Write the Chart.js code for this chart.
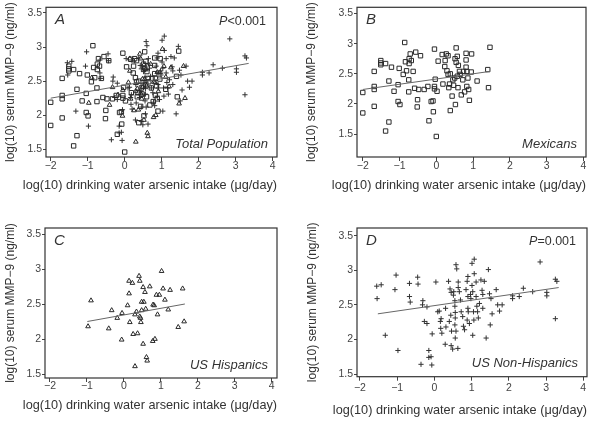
<!DOCTYPE html>
<html><head><meta charset="utf-8">
<script src="https://cdn.jsdelivr.net/npm/chart.js@4.4.1/dist/chart.umd.min.js"></script>
<style>
html,body{margin:0;padding:0;background:#fff;}
#wrap{position:relative;width:600px;height:427px;overflow:hidden;}
canvas{position:absolute;}
</style></head><body>
<div id="wrap">
<canvas id="cA" width="300" height="210" style="left:0;top:0"></canvas>
<canvas id="cB" width="300" height="210" style="left:300px;top:0"></canvas>
<canvas id="cC" width="300" height="217" style="left:0;top:210px"></canvas>
<canvas id="cD" width="300" height="217" style="left:300px;top:210px"></canvas>
</div>
<script>
// ---------- data ----------
const xTickValues = [-2, -1, 0, 1, 2, 3, 4];
const yTickValues = [1.5, 2, 2.5, 3, 3.5];
const xTitle = 'log(10) drinking water arsenic intake (\u03bcg/day)';
const yTitle = 'log(10) serum MMP\u22129 (ng/ml)';

// Mexicans (squares)
const mexX = [-2.00,-2.00,-1.69,-1.69,-1.69,-1.69,-1.51,-1.51,-1.51,-1.38,-1.38,-1.29,-1.22,-1.29,-1.15,-1.04,-1.04,-0.99,-1.01,-0.90,-0.86,-0.84,-0.81,-0.74,-0.71,-0.74,-0.68,-0.75,-0.75,-0.63,-0.56,-0.59,-0.51,-0.52,-0.43,-0.48,-0.33,-0.23,-0.20,-0.14,-0.09,-0.08,-0.05,-0.05,-0.03,-0.05,0.00,0.02,0.05,0.16,0.18,0.23,0.24,0.27,0.32,0.29,0.32,0.34,0.36,0.38,0.38,0.43,0.45,0.47,0.50,0.51,0.54,0.52,0.54,0.57,0.57,0.60,0.59,0.63,0.65,0.68,0.72,0.74,0.77,0.81,0.81,0.81,0.83,0.83,0.86,0.88,0.90,0.95,0.96,1.11,1.40,1.42,1.46];
const mexY = [2.19,1.85,2.54,2.29,2.24,1.96,2.72,2.68,2.65,2.67,1.55,1.70,2.61,2.38,2.21,2.32,2.04,1.99,2.59,2.49,3.02,2.70,2.55,2.67,2.83,2.75,2.72,2.40,2.20,2.54,2.86,2.26,2.07,1.95,2.80,2.24,2.24,2.29,1.72,2.04,2.05,1.87,2.29,2.25,2.41,2.91,1.46,2.21,2.71,2.82,2.33,2.62,2.72,2.83,2.80,2.55,2.49,2.27,2.33,2.50,1.89,2.13,2.40,2.31,2.43,2.75,2.93,1.99,2.69,2.46,2.79,2.64,2.27,2.54,2.49,2.15,2.40,2.54,2.20,2.84,2.73,2.61,2.54,2.29,2.43,2.24,2.06,2.53,2.83,2.38,2.57,2.27,2.94];

// US Hispanics (triangles)
const hispX = [-0.97,-0.89,-0.41,-0.33,-0.18,-0.06,-0.05,0.10,0.14,0.14,0.16,0.23,0.25,0.30,0.34,0.37,0.30,0.41,0.43,0.43,0.45,0.46,0.48,0.48,0.52,0.52,0.54,0.57,0.59,0.61,0.63,0.70,0.78,0.79,0.82,0.84,0.88,0.91,0.96,1.02,1.06,1.11,1.20,1.25,1.47,1.59,1.63];
const hispY = [2.18,2.55,2.15,2.41,2.30,1.99,2.37,2.48,2.83,2.65,2.24,2.80,2.07,2.35,2.39,2.08,1.61,2.90,2.83,2.32,2.30,2.24,2.53,2.41,2.74,1.93,2.53,2.67,2.43,1.74,1.69,2.75,1.97,2.49,2.48,2.00,2.63,2.35,2.63,2.97,2.72,2.56,2.42,2.70,2.17,2.72,2.25];

// US Non-Hispanics (crosses)
const nonHispX = [-1.55,-1.43,-1.54,-1.32,-1.03,-1.06,-0.98,-0.67,-0.67,-0.65,-0.45,-0.44,-0.31,-0.32,-0.27,-0.20,-0.20,-0.15,-0.15,-0.09,-0.07,-0.36,-0.06,0.04,0.09,0.13,0.16,0.18,0.17,0.20,0.30,0.31,0.29,0.38,0.42,0.45,0.44,0.40,0.46,0.45,0.49,0.52,0.51,0.55,0.55,0.56,0.56,0.55,0.58,0.56,0.63,0.58,0.60,0.64,0.64,0.67,0.70,0.72,0.76,0.78,0.81,0.85,0.88,0.90,0.90,0.90,0.91,0.88,0.94,0.97,0.98,1.01,1.07,1.01,1.03,1.05,1.06,1.03,1.07,1.12,1.12,1.14,1.16,1.18,1.21,1.25,1.28,1.30,1.30,1.34,1.39,1.45,1.48,1.52,1.50,1.55,1.66,1.70,1.75,1.82,2.10,2.10,2.28,2.39,2.64,2.84,3.02,3.02,3.25,3.29,3.25];
const nonHispY = [2.77,2.79,2.59,2.06,2.93,2.72,1.84,2.81,2.62,2.54,2.90,2.80,2.56,2.50,2.26,2.47,2.23,1.84,1.74,1.75,1.63,1.64,2.08,2.83,2.40,2.41,2.26,2.30,2.16,2.09,2.45,2.18,1.93,2.84,2.73,2.68,2.35,2.26,2.12,1.91,1.86,2.69,2.64,2.56,2.48,2.39,2.31,2.21,2.12,2.02,1.87,3.08,3.02,2.83,2.75,2.69,2.57,2.40,2.33,2.19,2.14,2.72,2.84,2.91,2.62,2.45,2.40,2.28,2.23,2.65,2.59,3.10,3.16,2.78,2.69,2.40,2.28,2.06,2.95,2.83,2.62,2.48,2.40,2.31,2.52,2.86,2.71,2.65,2.45,2.84,2.02,3.01,2.66,2.59,2.21,2.37,2.72,2.50,2.41,2.50,2.63,2.59,2.62,2.74,2.69,3.12,2.68,2.63,2.87,2.84,2.30];

// fitted regression lines (endpoints)
const fitAllX = [-2.00, 3.35], fitAllY = [2.25, 2.76];
const fitMexX = [-2.00, 1.46], fitMexY = [2.24, 2.54];
const fitHispX = [-0.99, 1.65], fitHispY = [2.25, 2.50];
const fitNonX = [-1.52, 3.34], fitNonY = [2.37, 2.75];

// ---------- helpers ----------
const FAM = '"Liberation Sans", Arial, Helvetica, sans-serif';
const pts = (xs, ys) => xs.map((x, i) => ({x: x, y: ys[i]}));
const mexStyle = {pointStyle:'rect', pointRadius:3.1, borderColor:'#2a2a2a', backgroundColor:'rgba(0,0,0,0)', borderWidth:1, showLine:false};
const hispStyle = {pointStyle:'triangle', pointRadius:2.7, borderColor:'#2a2a2a', backgroundColor:'rgba(0,0,0,0)', borderWidth:1, showLine:false};
const nonStyle = {pointStyle:'cross', pointRadius:2.6, borderColor:'#333', backgroundColor:'rgba(0,0,0,0)', borderWidth:1, showLine:false};
const fitLine = (xs, ys) => ({type:'line', data: pts(xs, ys), showLine:true, pointRadius:0, borderColor:'#666', borderWidth:1, fill:false, order:-1});

const panelDeco = {
  id:'panelDeco',
  afterDraw(chart, args, o){
    const ctx = chart.ctx, a = chart.chartArea;
    ctx.save();
    ctx.strokeStyle = '#333'; ctx.lineWidth = 1.2;
    ctx.strokeRect(a.left, a.top, a.right - a.left, a.bottom - a.top);
    ctx.fillStyle = '#333'; ctx.textBaseline = 'middle';
    ctx.font = 'italic 15px ' + FAM; ctx.textAlign = 'left';
    ctx.fillText(o.letter, a.left + 9, a.top + 13);
    ctx.font = 'italic 13px ' + FAM; ctx.textAlign = 'right';
    ctx.fillText(o.name, a.right - 9, a.bottom - 13);
    if (o.pRest) {
      ctx.font = '12.5px ' + FAM;
      const w = ctx.measureText(o.pRest).width;
      ctx.fillText(o.pRest, a.right - 11, a.top + 14);
      ctx.font = 'italic 12.5px ' + FAM;
      ctx.fillText('P', a.right - 11 - w, a.top + 14);
    }
    // x-axis title, right-aligned with the plot frame
    ctx.font = '12.7px ' + FAM; ctx.textAlign = 'right';
    ctx.fillText(xTitle, a.right, o.xTitleY);
    ctx.restore();
  }
};

function fmt(v){ return v < 0 ? '\u2212' + Math.abs(v) : String(v); }

function makePanel(id, p){
  new Chart(document.getElementById(id), {
    type:'scatter',
    data:{datasets:p.datasets},
    plugins:[panelDeco],
    options:{
      responsive:false, animation:false, events:[],
      layout:{padding:{top:p.padTop, right:p.padRight, left:0, bottom:0}},
      plugins:{legend:{display:false}, tooltip:{enabled:false},
        panelDeco:{letter:p.letter, name:p.name, pRest:p.pRest, xTitleY:p.xTitleY}},
      scales:{
        x:{type:'linear', min:p.xmin, max:p.xmax,
          afterBuildTicks: s => { s.ticks = xTickValues.map(v => ({value:v})); },
          afterFit: s => { s.height = p.xAxisH; },
          grid:{display:true, drawOnChartArea:false, drawTicks:true, tickLength:4, color:'#444'},
          border:{display:false},
          ticks:{padding:p.xTickPad, autoSkip:false, maxRotation:0, color:'#444', font:{size:10.5, family:FAM}, callback:v => fmt(v)},
          title:{display:false}
        },
        y:{type:'linear', min:p.ymin, max:p.ymax,
          afterBuildTicks: s => { s.ticks = yTickValues.map(v => ({value:v})); },
          afterFit: s => { s.width = p.yAxisW; },
          grid:{display:true, drawOnChartArea:false, drawTicks:true, tickLength:3, color:'#444'},
          border:{display:false},
          ticks:{padding:1, autoSkip:false, color:'#444', font:{size:10.5, family:FAM}, callback:v => fmt(v)},
          title:{display:true, text:yTitle, color:'#333', font:{size:12, family:FAM}, padding:{top:p.yTitlePad, bottom:0}}
        }
      }
    }
  });
}

makePanel('cA', {
  datasets:[Object.assign({data:pts(mexX, mexY)}, mexStyle), Object.assign({data:pts(hispX, hispY)}, hispStyle), Object.assign({data:pts(nonHispX, nonHispY)}, nonStyle), fitLine(fitAllX, fitAllY)],
  letter:'A', name:'Total Population', pRest:'<0.001',
  xmin:-2.127, xmax:4.116, ymin:1.387, ymax:3.583,
  padTop:7, padRight:23, yAxisW:46, xAxisH:53, xTickPad:-1, xTitleY:185, yTitlePad:3.8
});
makePanel('cB', {
  datasets:[Object.assign({data:pts(mexX, mexY)}, mexStyle), fitLine(fitMexX, fitMexY)],
  letter:'B', name:'Mexicans', pRest:null,
  xmin:-2.158, xmax:4.073, ymin:1.119, ymax:3.604,
  padTop:7, padRight:14, yAxisW:57, xAxisH:53, xTickPad:-1, xTitleY:185, yTitlePad:4.8
});
makePanel('cC', {
  datasets:[Object.assign({data:pts(hispX, hispY)}, hispStyle), fitLine(fitHispX, fitHispY)],
  letter:'C', name:'US Hispanics', pRest:null,
  xmin:-2.135, xmax:4.143, ymin:1.443, ymax:3.586,
  padTop:18, padRight:23, yAxisW:45, xAxisH:49, xTickPad:-2, xTitleY:195, yTitlePad:3.8
});
makePanel('cD', {
  datasets:[Object.assign({data:pts(nonHispX, nonHispY)}, nonStyle), fitLine(fitNonX, fitNonY)],
  letter:'D', name:'US Non-Hispanics', pRest:'=0.001',
  xmin:-2.08, xmax:4.10, ymin:1.461, ymax:3.611,
  padTop:18, padRight:13, yAxisW:57, xAxisH:50.3, xTickPad:1, xTitleY:200, yTitlePad:5.8
});
</script>
</body></html>
